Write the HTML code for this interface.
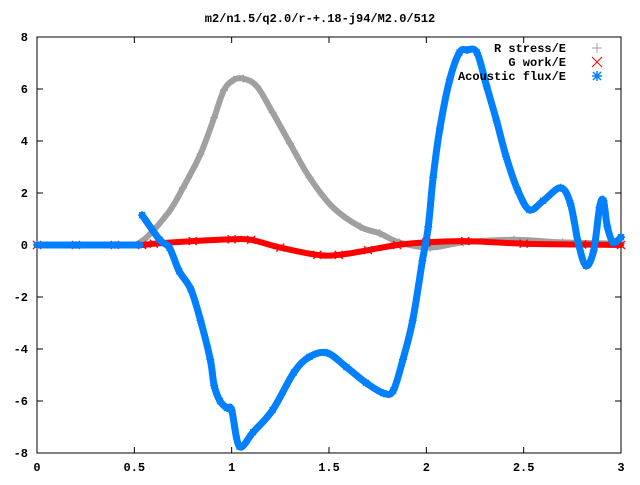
<!DOCTYPE html>
<html><head><meta charset="utf-8"><style>
body{margin:0;background:#fff}
svg text{font-family:"Liberation Mono",monospace;font-size:12px;font-weight:bold;fill:#000}
</style></head><body>
<svg width="640" height="480" xmlns="http://www.w3.org/2000/svg" id="c">
<text x="320" y="22" text-anchor="middle">m2/n1.5/q2.0/r-+.18-j94/M2.0/512</text>
<rect x="37" y="37" width="584" height="416" fill="none" stroke="#000" stroke-width="1"/>
<g id="axes"></g>
<g id="series"></g>
<g>
<text x="566" y="52" text-anchor="end">R stress/E</text>
<text x="566" y="66" text-anchor="end">G work/E</text>
<text x="566" y="80" text-anchor="end">Acoustic flux/E</text>
<g stroke="#a0a0a0" stroke-width="1"><line x1="592" y1="48" x2="602" y2="48"/><line x1="597" y1="43" x2="597" y2="53"/></g>
<g stroke="#ff0000" stroke-width="1"><line x1="592" y1="57" x2="602" y2="67"/><line x1="602" y1="57" x2="592" y2="67"/></g>
<g stroke="#0080ff" stroke-width="1.5"><line x1="592" y1="76" x2="602" y2="76"/><line x1="597" y1="71" x2="597" y2="81"/><line x1="593" y1="72" x2="601" y2="80"/><line x1="601" y1="72" x2="593" y2="80"/></g>
</g>
</svg>
<script>
const xTicks=[0,0.5,1,1.5,2,2.5,3];
const xTickLabels=["0","0.5","1","1.5","2","2.5","3"];
const yTicks=[-8,-6,-4,-2,0,2,4,6,8];
const yTickLabels=["-8","-6","-4","-2","0","2","4","6","8"];
const rX=[0,0.2,0.4,0.53,0.67,0.75,0.84,0.91,0.96,1.01,1.06,1.13,1.21,1.30,1.40,1.52,1.66,1.76,1.86,2.02,2.19,2.45,2.7,3.0];
const rY=[0,0,0,0.1,1.2,2.2,3.5,4.9,5.95,6.35,6.4,6.1,5.1,3.9,2.6,1.45,0.7,0.45,0.1,-0.1,0.1,0.2,0.1,0.05];
const gX=[0,0.2,0.4,0.54,0.6,0.8,1.0,1.1,1.25,1.44,1.55,1.7,1.85,2.0,2.2,2.5,2.8,3.0];
const gY=[0,0,0,0,0.05,0.15,0.22,0.2,-0.1,-0.38,-0.38,-0.2,0,0.1,0.15,0.05,0.02,0];
const aX0=[0,0.2,0.4,0.53];
const aY0=[0,0,0,0];
const aX=[0.54,0.63,0.68,0.73,0.79,0.84,0.89,0.91,0.94,0.976,1.0,1.04,1.11,1.21,1.32,1.40,1.49,1.59,1.69,1.78,1.83,1.88,1.93,1.98,2.01,2.035,2.07,2.12,2.17,2.21,2.26,2.31,2.36,2.41,2.47,2.53,2.60,2.69,2.74,2.78,2.82,2.86,2.89,2.91,2.93,2.96,3.0];
const aY=[1.15,0.2,-0.1,-1.0,-1.7,-2.9,-4.4,-5.4,-6.0,-6.27,-6.35,-7.75,-7.2,-6.35,-4.9,-4.3,-4.15,-4.7,-5.3,-5.7,-5.6,-4.4,-2.9,-0.6,0.7,2.6,4.5,6.35,7.4,7.5,7.4,6.1,4.8,3.4,2.1,1.35,1.7,2.2,1.6,0.1,-0.8,-0.2,1.45,1.7,0.7,0.1,0.3];
const NS="http://www.w3.org/2000/svg";
const X=v=>37+v/3*584, Y=v=>245-v*26;
const ax=document.getElementById('axes'), se=document.getElementById('series');
function mk(t,a,p){const e=document.createElementNS(NS,t);for(const k in a)e.setAttribute(k,a[k]);(p||ax).appendChild(e);return e;}
xTicks.forEach((v,i)=>{
 let l=mk('line',{x1:X(v),x2:X(v),y1:453,y2:447,stroke:'#000'});
 
 
 let l2=mk('line',{x1:X(v),x2:X(v),y1:37,y2:43,stroke:'#000'});
 
 
 let t=mk('text',{x:X(v),y:471,'text-anchor':'middle'});t.textContent=xTickLabels[i];
 
 
});
yTicks.forEach((v,i)=>{
 let l=mk('line',{x1:37,x2:43,y1:Y(v),y2:Y(v),stroke:'#000'});
 
 
 let l2=mk('line',{x1:621,x2:615,y1:Y(v),y2:Y(v),stroke:'#000'});
 
 
 let t=mk('text',{x:28,y:Y(v)+4,'text-anchor':'end'});t.textContent=yTickLabels[i];
 
 
});
function smooth(P){
 let d='M'+P[0][0]+','+P[0][1];
 for(let i=0;i<P.length-1;i++){
  const p0=P[Math.max(i-1,0)],p1=P[i],p2=P[i+1],p3=P[Math.min(i+2,P.length-1)];
  const c1=[p1[0]+(p2[0]-p0[0])/6,p1[1]+(p2[1]-p0[1])/6];
  const c2=[p2[0]-(p3[0]-p1[0])/6,p2[1]-(p3[1]-p1[1])/6];
  d+=`C${c1[0]},${c1[1]} ${c2[0]},${c2[1]} ${p2[0]},${p2[1]}`;
 }
 return d;
}
function series(xs,ys,col,w,name,marker,showMarkers){
 const g=mk('g',{},se);
 
 
 const P=xs.map((x,i)=>[X(x),Y(ys[i])]);
 const p=mk('path',{d:smooth(P),fill:'none',stroke:col,'stroke-width':w,'stroke-linejoin':'round','stroke-linecap':'round'},g);
 
 
 if(!showMarkers)return;
 xs.forEach((x,i)=>{
  const cx=X(x),cy=Y(ys[i]);
  let d=marker==='plus'?`M${cx-4},${cy}h8M${cx},${cy-4}v8`:marker==='x'?`M${cx-4},${cy-4}l8,8M${cx+4},${cy-4}l-8,8`:`M${cx-4},${cy}h8M${cx},${cy-4}v8M${cx-3},${cy-3}l6,6M${cx+3},${cy-3}l-6,6`;
  const m=mk('path',{d:d,stroke:col,'stroke-width':1.3,fill:'none'},g);
  
  
 });
}
series(rX,rY,'#a0a0a0',6,'r-stress-series','plus',true);
series(gX,gY,'#ff0000',6,'g-work-series','x',true);
series(aX0,aY0,'#0080ff',7,'acoustic-flux-zero-series','star',false);
series(aX,aY,'#0080ff',7,'acoustic-flux-series','star',true);
</script>
</body></html>
